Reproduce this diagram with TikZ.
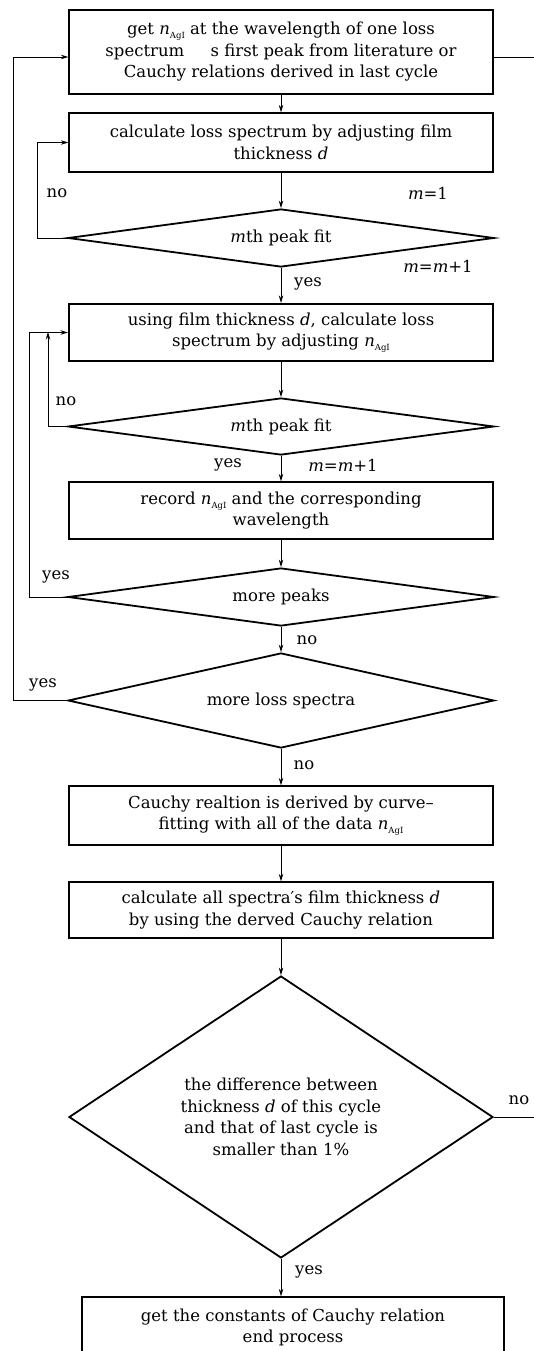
\documentclass[tikz,border=0pt]{standalone}
\usepackage{fontspec}
\setmainfont{DejaVu Serif}
\usetikzlibrary{shapes.geometric,arrows.meta,calc}
\newcommand{\nagi}{\textit{n}\raisebox{-0.45ex}{\fontsize{8.5}{8.5}\selectfont AgI}}
\begin{document}
\begin{tikzpicture}[x=1pt,y=-1pt,
  txt/.style={font=\fontsize{16.5}{21.5}\selectfont},
  box/.style={txt,draw,line width=1.3pt,minimum width=424pt,align=center,inner sep=0pt},
  dia/.style={txt,draw,diamond,line width=1.8pt,minimum width=426pt,align=center,inner sep=0pt},
  con/.style={line width=0.9pt},
  arr/.style={con,-{Stealth[length=7.5pt,width=4.5pt]}},
  lbl/.style={txt,inner sep=0pt}]
\useasboundingbox (0,0) rectangle (533,1351);
% boxes
\node[box,minimum height=84pt] (b1) at (281,52) {get \nagi{} at the wavelength of one loss\\spectrum\hspace{1.6em}s first peak from literature or\\Cauchy relations derived in last cycle};
\node[box,minimum height=59pt] (b2) at (281,142.5) {calculate loss spectrum by adjusting film\\thickness \textit{d}};
\node[dia,minimum height=58pt,aspect=7.3] (d1) at (281,238) {\textit{m}th peak fit};
\node[box,minimum height=57pt,line width=2.2pt] (b3) at (281,332.5) {using film thickness \textit{d}, calculate loss\\spectrum by adjusting \nagi};
\node[dia,minimum height=57pt,aspect=7.5] (d2) at (281,426.5) {\textit{m}th peak fit};
\node[box,minimum height=57pt] (b4) at (281,510.5) {record \nagi{} and the corresponding\\wavelength};
\node[dia,minimum height=58pt,aspect=7.3] (d3) at (281,597) {more peaks};
\node[dia,minimum height=95pt,aspect=4.5] (d4) at (281,700.5) {more loss spectra};
\node[box,minimum height=59pt] (b5) at (281,815.5) {Cauchy realtion is derived by curve–\\fitting with all of the data \nagi};
\node[box,minimum height=56pt] (b6) at (281,910) {calculate all spectra′s film thickness \textit{d}\\by using the derved Cauchy relation};
\node[dia,minimum height=282pt,minimum width=424pt,aspect=1.5] (d5) at (281,1117) {the difference between\\thickness \textit{d} of this cycle\\and that of last cycle is\\smaller than 1\%};
\node[box,minimum height=61pt,minimum width=422pt] (b7) at (293,1327.5) {get the constants of Cauchy relation\\end process};
% main flow
\draw[arr] (b1.south) -- (b2.north);
\draw[arr] (b2.south) -- (d1.north);
\draw[arr] (d1.south) -- (b3.north);
\draw[arr] (b3.south) -- (d2.north);
\draw[arr] (d2.south) -- (b4.north);
\draw[arr] (b4.south) -- (d3.north);
\draw[arr] (d3.south) -- (d4.north);
\draw[arr] (d4.south) -- (b5.north);
\draw[arr] (b5.south) -- (b6.north);
\draw[arr] (b6.south) -- (d5.north);
\draw[arr] (d5.south) -- (d5.south |- b7.north);
% loops
\coordinate (l1) at (37,238);
\draw[arr] (d1.west) -- (l1) |- (b2.west);
\coordinate (l2) at (48,426.5);
\coordinate (l2e) at (48,332);
\draw[arr] (d2.west) -- (l2) -- (l2e);
\coordinate (l3) at (29,597);
\draw[arr] (d3.west) -- (l3) |- (b3.west);
\coordinate (l4) at (13,700.5);
\draw[arr] (d4.west) -- (l4) |- ($(b1.west)+(0,5)$);
\coordinate (r5) at (545,1117);
\draw[con] (d5.east) -- (r5) |- ($(b1.east)+(0,5)$);
% labels
\node[lbl] at (57,193) {no};
\node[lbl] at (428,193) {\textit{m}=1};
\node[lbl] at (438,266) {\textit{m}=\textit{m}+1};
\node[lbl] at (308,284) {yes};
\node[lbl] at (66,401) {no};
\node[lbl] at (228,465) {yes};
\node[lbl] at (343,465) {\textit{m}=\textit{m}+1};
\node[lbl] at (56,577) {yes};
\node[lbl] at (307,640) {no};
\node[lbl] at (43,685) {yes};
\node[lbl] at (304,765) {no};
\node[lbl] at (519,1100) {no};
\node[lbl] at (309,1272) {yes};
\end{tikzpicture}
\end{document}
